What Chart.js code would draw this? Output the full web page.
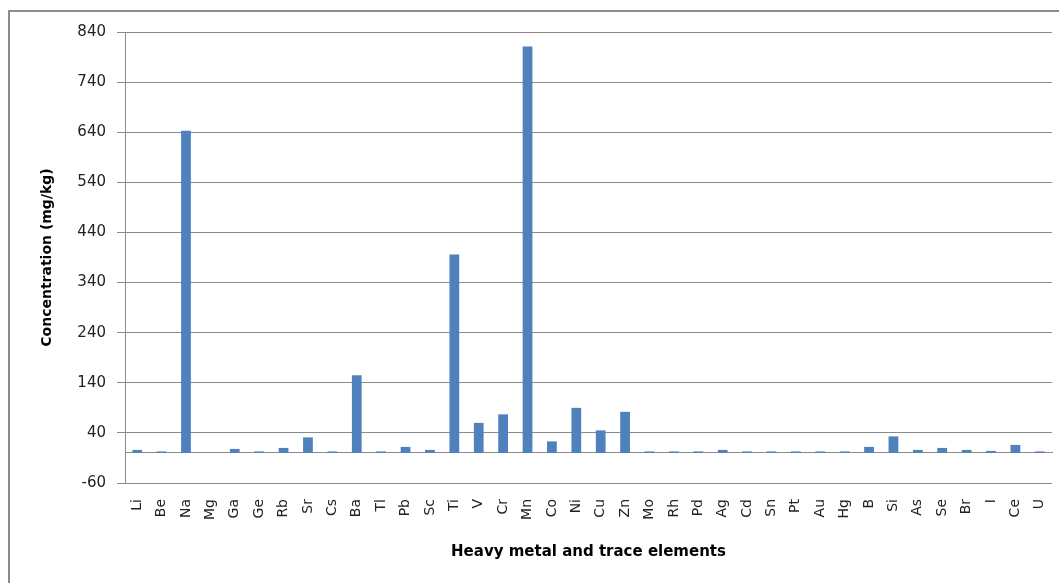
<!DOCTYPE html>
<html>
<head>
<meta charset="utf-8">
<script src="https://cdn.jsdelivr.net/npm/chart.js@4/dist/chart.umd.min.js"></script>
<style>
  html, body { margin: 0; padding: 0; background: #ffffff; overflow: hidden; }
  #frame { position: absolute; left: 8px; top: 10px; width: 1200px; height: 700px;
           border: 2px solid #8c8c8c; box-sizing: border-box; }
  #wrap { position: absolute; left: 0; top: 0; width: 1059px; height: 583px; }
</style>
</head>
<body>
<div id="frame"></div>
<div id="wrap"><canvas id="chart" width="1059" height="583"></canvas></div>
<script>
// Elements measured and their concentrations (mg/kg)
const elements = ["Li", "Be", "Na", "Mg", "Ga", "Ge", "Rb", "Sr", "Cs", "Ba", "Tl", "Pb", "Sc",
  "Ti", "V", "Cr", "Mn", "Co", "Ni", "Cu", "Zn", "Mo", "Rh", "Pd", "Ag", "Cd", "Sn", "Pt",
  "Au", "Hg", "B", "Si", "As", "Se", "Br", "I", "Ce", "U"];
const concentrations = [6, 3, 643, 0, 8, 3, 10, 31, 3, 155, 3, 12, 6,
  396, 60, 77, 811, 23, 90, 45, 82, 3, 3, 3, 6, 3, 3, 3,
  3, 3, 12, 33, 6, 10, 6, 4, 16, 3];
const yMin = -60;
const yMax = 840;
const yStep = 100;

const axisFont = { family: "DejaVu Sans", size: 15 };
const titleFont = { family: "DejaVu Sans", size: 14, weight: "bold" };
const gridGray = "#8a8a8a";

new Chart(document.getElementById("chart"), {
  type: "bar",
  data: {
    labels: elements,
    datasets: [{
      data: concentrations,
      backgroundColor: "#4f81bd",
      borderWidth: 0,
      barPercentage: 0.4,
      categoryPercentage: 1.0
    }]
  },
  options: {
    responsive: false,
    animation: false,
    layout: { padding: { left: 0, top: 32, right: 7, bottom: 0 } },
    plugins: { legend: { display: false }, tooltip: { enabled: false } },
    scales: {
      x: {
        position: "bottom",
        grid: { display: false, drawTicks: false },
        border: { display: false },
        ticks: {
          color: "#222222",
          font: { family: "DejaVu Sans", size: 14 },
          minRotation: 90,
          maxRotation: 90,
          autoSkip: false,
          padding: 16
        },
        title: {
          display: true,
          text: "Heavy metal and trace elements",
          color: "#000000",
          font: { family: "DejaVu Sans", size: 15, weight: "bold" },
          padding: { top: 0, bottom: 22 }
        },
        afterFit: (scale) => {
          scale.height = 100;
          scale.paddingLeft = 0;
          scale.paddingRight = 0;
        }
      },
      // category axis line drawn across the zero level
      xZero: {
        type: "category",
        axis: "x",
        position: { y: 0 },
        grid: { display: true, drawOnChartArea: false, drawTicks: false },
        border: { display: true, color: gridGray, width: 1 },
        ticks: { display: false }
      },
      y: {
        min: yMin,
        max: yMax,
        ticks: {
          stepSize: yStep,
          color: "#222222",
          font: axisFont,
          padding: 11
        },
        grid: { color: gridGray, lineWidth: 1, tickLength: 8 },
        border: { display: true, color: gridGray, width: 1 },
        title: {
          display: true,
          text: "Concentration (mg/kg)",
          color: "#000000",
          font: titleFont,
          padding: { top: 39, bottom: 0 }
        },
        afterFit: (scale) => {
          scale.width = 125;
          scale.paddingTop = 0;
          scale.paddingBottom = 0;
        }
      }
    }
  }
});
</script>
</body>
</html>
